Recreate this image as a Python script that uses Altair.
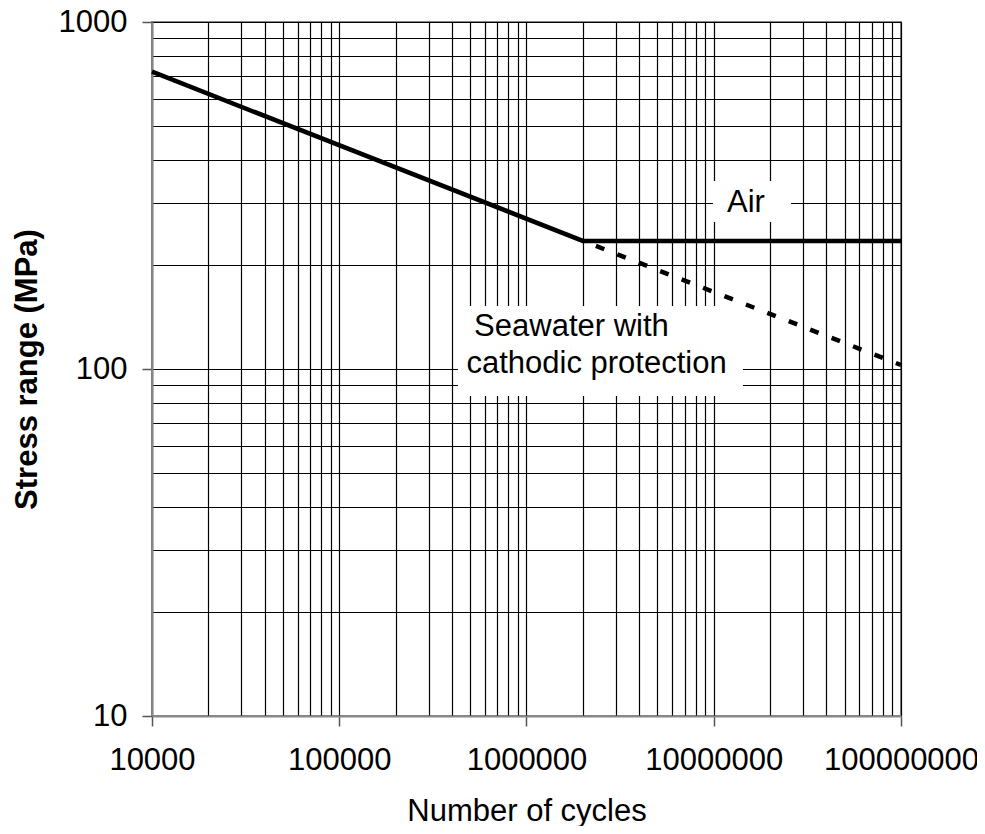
import altair as alt
import pandas as pd

# S-N curve
cycles_air = [1e4, 2e6, 1e8]
stress_air = [719, 234, 234]
cycles_sea = [2e6, 1e8]
stress_sea = [234, 102.7]

# annotation labels
label_text = ["Air", "Seawater with", "cathodic protection"]
label_cycles = [1.486e7, 1.738e6, 2.366e6]
label_stress = [283.5, 124.7, 97.2]

# white boxes behind the labels
box_n_lo = [9.91e6, 4.305e5]
box_n_hi = [2.585e7, 1.432e7]
box_s_lo = [265.2, 83.6]
box_s_hi = [348.3, 151.9]

x_decades = [10000, 100000, 1000000, 10000000, 100000000]
y_decades = [10, 100, 1000]
x_grid = [k * d for d in x_decades[:-1] for k in range(1, 10)] + [x_decades[-1]]
y_grid = [k * d for d in y_decades[:-1] for k in range(1, 10)] + [y_decades[-1]]

FONT = "Arial"
FS = 31


def dec_test(vals):
    return f"indexof({vals}, datum.value) >= 0"


x_axis = alt.Axis(
    values=x_grid, title="Number of cycles", format="d",
    labelExpr=f"{dec_test(x_decades)} ? datum.label : ''",
    tickOpacity={"condition": {"test": dec_test(x_decades), "value": 1}, "value": 0},
    tickSize=10, tickColor="#555", tickWidth=1.5,
    grid=True, gridColor="#000", gridWidth=1.2,
    domainColor="#888", domainWidth=2,
    labelFont=FONT, labelFontSize=FS, labelColor="black", labelPadding=19,
    labelOverlap=False, labelFlush=False, labelBound=False,
    titleFont=FONT, titleFontSize=FS, titleFontWeight="normal", titleColor="black",
    titlePadding=21,
)
y_axis = alt.Axis(
    values=y_grid, title="Stress range (MPa)", format="d",
    labelExpr=f"{dec_test(y_decades)} ? datum.label : ''",
    tickOpacity={"condition": {"test": dec_test(y_decades), "value": 1}, "value": 0},
    tickSize=10, tickColor="#555", tickWidth=1.5,
    grid=True, gridColor="#000", gridWidth=1.2,
    domainColor="#888", domainWidth=2,
    labelFont=FONT, labelFontSize=FS, labelColor="black", labelPadding=15,
    labelOverlap=False, labelFlush=False, labelBound=False,
    titleFont=FONT, titleFontSize=FS, titleFontWeight="bold", titleColor="black",
    titlePadding=15,
)
x_scale = alt.Scale(type="log", domain=[1e4, 1e8], nice=False)
y_scale = alt.Scale(type="log", domain=[10, 1000], nice=False)

X = alt.X("N:Q", scale=x_scale, axis=x_axis)
Y = alt.Y("S:Q", scale=y_scale, axis=y_axis)

air_df = pd.DataFrame({"N": cycles_air, "S": stress_air})
sea_df = pd.DataFrame({"N": cycles_sea, "S": stress_sea})
lab_df = pd.DataFrame({"N": label_cycles, "S": label_stress, "t": label_text})
box_df = pd.DataFrame({"N": box_n_lo, "N2": box_n_hi, "S": box_s_lo, "S2": box_s_hi})

boxes = alt.Chart(box_df).mark_rect(color="white").encode(
    x=X, x2="N2:Q", y=Y, y2="S2:Q"
)
air = alt.Chart(air_df).mark_line(color="black", strokeWidth=4.5).encode(x=X, y=Y)
sea = alt.Chart(sea_df).mark_line(
    color="black", strokeWidth=4.5, strokeDash=[9, 14], strokeDashOffset=9
).encode(x=X, y=Y)
labels = alt.Chart(lab_df).mark_text(
    font=FONT, fontSize=FS, color="black", align="center", baseline="alphabetic"
).encode(x=X, y=Y, text="t:N")

chart = alt.layer(boxes, air, sea, labels).properties(
    width=749, height=694,
    autosize=alt.AutoSizeParams(type="none"),
    padding={"left": 144, "top": 14, "right": 76, "bottom": 110},
).configure_view(stroke="#888", strokeWidth=2)

chart.save("out.html", embed_options={"renderer": "svg", "actions": False})
